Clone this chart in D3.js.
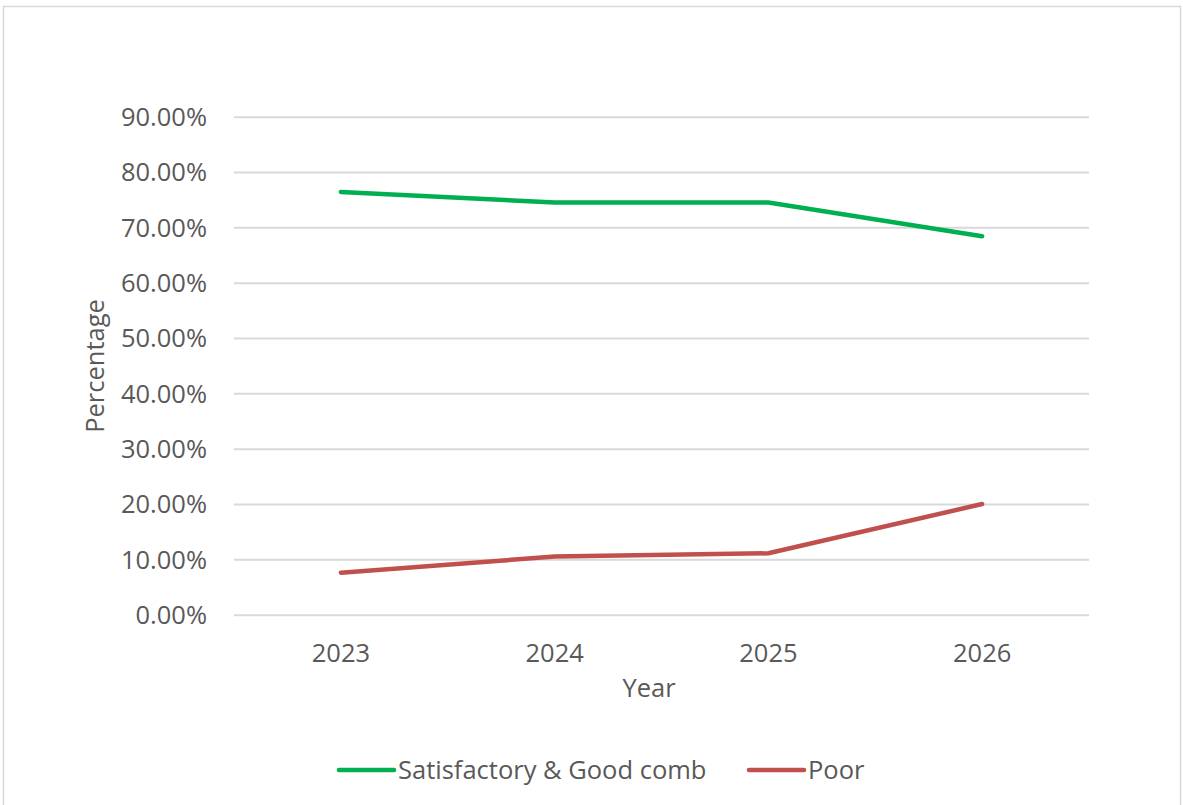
<!DOCTYPE html>
<html><head><meta charset="utf-8">
<script src="https://cdn.jsdelivr.net/npm/d3@7/dist/d3.min.js"></script>
<style>body{margin:0;background:#fff;} text{font-family:"Open Sans", sans-serif;}</style>
</head><body>
<svg id="c" width="1183" height="805"></svg>
<script>
const years = ["2023","2024","2025","2026"];
const satGood = [0.764, 0.745, 0.745, 0.684];
const poor = [0.076, 0.105, 0.111, 0.200];
const yTicks = [0,0.1,0.2,0.3,0.4,0.5,0.6,0.7,0.8,0.9];
const seriesNames = ["Satisfactory & Good comb","Poor"];
const seriesColors = ["#00b050","#c0504d"];

const FS = "25.5px";
const FF = "'Open Sans', sans-serif";
const svg = d3.select("#c");
const textColor = "#595959";
svg.append("rect").attr("x",3.5).attr("y",6.5).attr("width",1177).attr("height",810)
  .attr("fill","#fff").attr("stroke","#d9d9d9").attr("stroke-width",1.5);

const x = d3.scaleBand().domain(years).range([234,1089]);
const y = d3.scaleLinear().domain([0,0.9]).range([614.7,116.7]);

const g = svg.append("g");
const yAxis = d3.axisLeft(y).tickValues(yTicks).tickFormat(d3.format(".2%")).tickSize(-(1089-234)).tickPadding(27);
const ya = g.append("g").attr("transform","translate(234,0)").call(yAxis);
ya.select(".domain").remove();
ya.selectAll(".tick line").attr("stroke","#d9d9d9").attr("stroke-width",2);
ya.selectAll(".tick text").attr("fill",textColor).style("font-size",FS).attr("font-family",FF).attr("dy","0.35em");

const xAxis = d3.axisBottom(x).tickSize(0).tickPadding(26);
const xa = g.append("g").attr("transform","translate(0,614.7)").call(xAxis);
xa.select(".domain").remove();
xa.selectAll(".tick text").attr("fill",textColor).style("font-size",FS).attr("font-family",FF).attr("dy","0.35em").attr("y",38);

const line = d3.line().x((d,i)=>x(years[i])+x.bandwidth()/2).y(d=>y(d));
[satGood, poor].forEach((s,k)=>{
  svg.append("path").datum(s).attr("d",line).attr("fill","none")
    .attr("stroke",seriesColors[k]).attr("stroke-width",4.5)
    .attr("stroke-linecap","round").attr("stroke-linejoin","round");
});

svg.append("text").attr("transform","translate(95,366) rotate(-90)").attr("text-anchor","middle")
  .attr("dy","0.35em").attr("fill",textColor).style("font-size",FS).attr("font-family",FF).text("Percentage");
svg.append("text").attr("x",649).attr("y",688).attr("text-anchor","middle")
  .attr("dy","0.35em").attr("fill",textColor).style("font-size",FS).attr("font-family",FF).text("Year");

const legendX = [339, 749];
seriesNames.forEach((n,k)=>{
  const lg = svg.append("g").attr("transform",`translate(${legendX[k]},770)`);
  lg.append("line").attr("x1",0).attr("x2",55).attr("y1",0).attr("y2",0)
    .attr("stroke",seriesColors[k]).attr("stroke-width",4.5).attr("stroke-linecap","round");
  lg.append("text").attr("x",59).attr("y",0).attr("dy","0.35em").attr("fill",textColor)
    .style("font-size",FS).attr("font-family",FF).text(n);
});
</script>
</body></html>
